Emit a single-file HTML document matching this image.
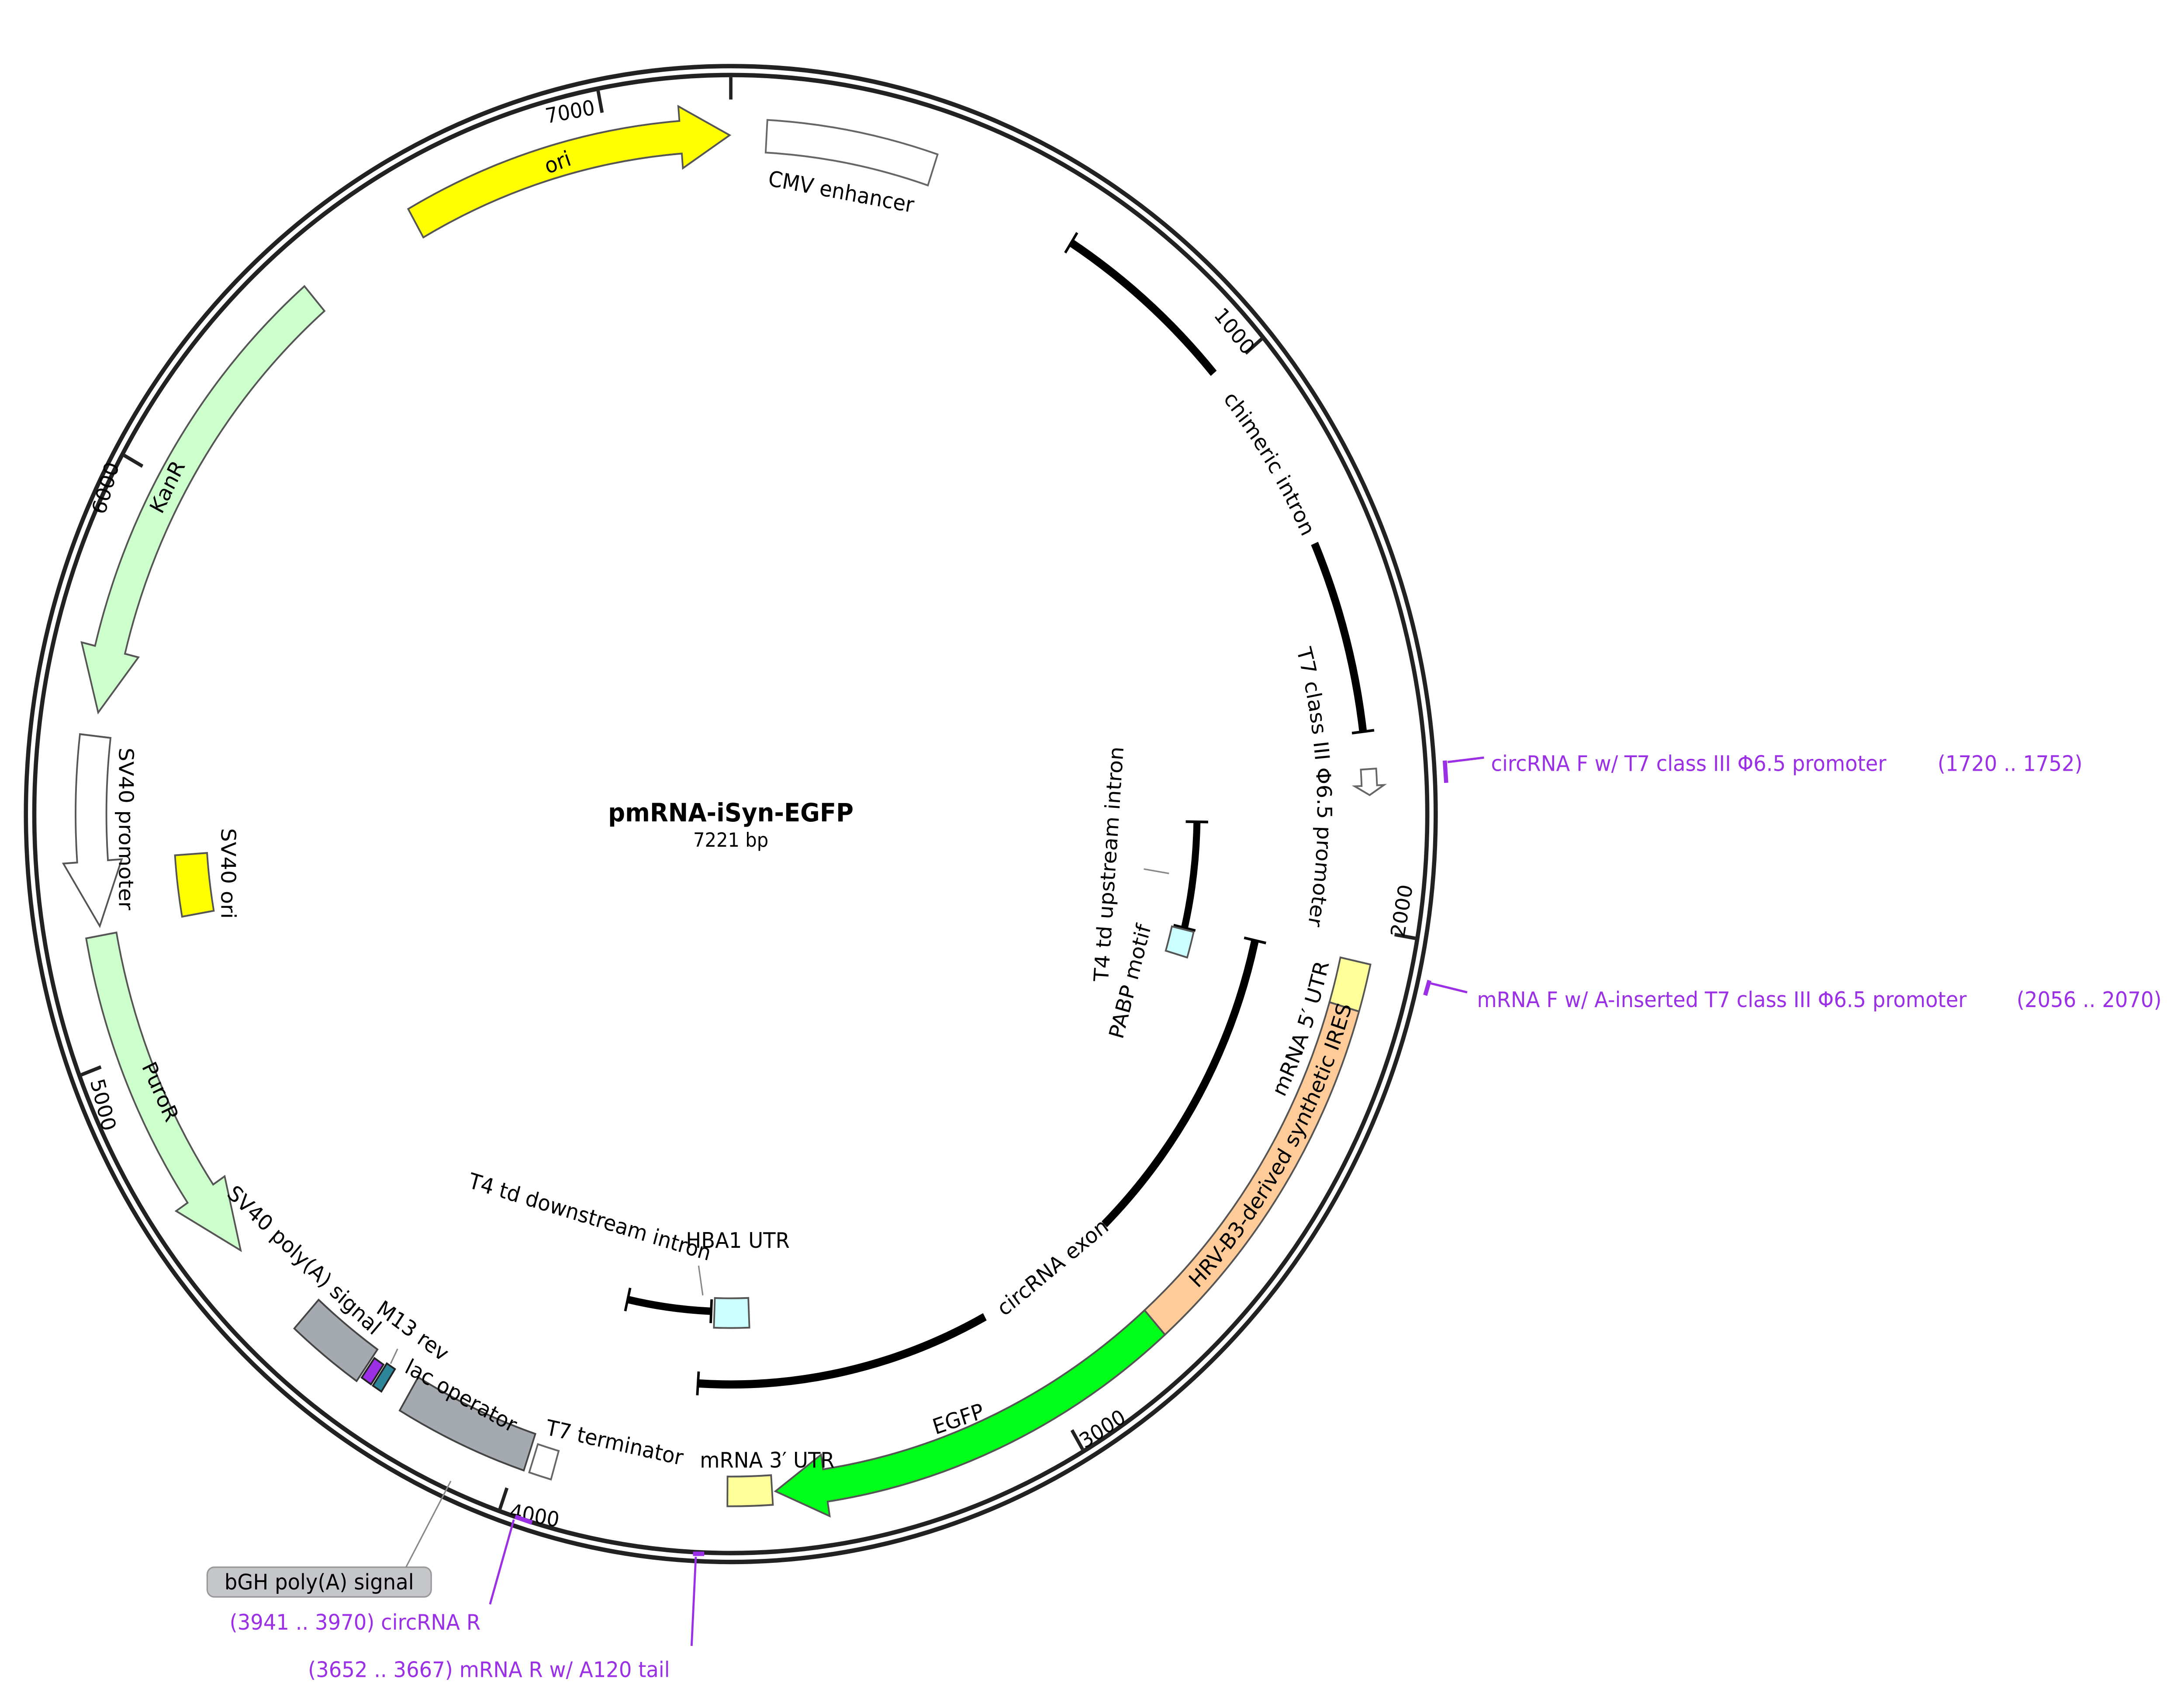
<!DOCTYPE html>
<html><head><meta charset="utf-8"><style>
html,body{margin:0;padding:0;background:#fff;overflow:hidden;}
svg{display:block;position:fixed;left:0;top:0;width:100vw;height:100vh;}
text{font-family:"DejaVu Sans","Liberation Sans",sans-serif;}
</style></head><body>
<svg id="s" xmlns="http://www.w3.org/2000/svg" viewBox="0 0 1560 1139.7" preserveAspectRatio="none">
<rect width="1560" height="1139.7" fill="#fff"/>
<g id="shapes"></g>
<g font-size="14.5" fill="#000">
<text x="522" y="553" text-anchor="middle" font-weight="bold" font-size="17">pmRNA-iSyn-EGFP</text>
<text x="522" y="570" text-anchor="middle" font-size="13">7221 bp</text>
<text transform="translate(408,80) rotate(-10)" text-anchor="middle" font-size="14">7000</text>
<text transform="translate(400,114) rotate(-20)" text-anchor="middle">ori</text>
<text transform="translate(600,134) rotate(10)" text-anchor="middle">CMV enhancer</text>
<text transform="translate(878,226) rotate(50)" text-anchor="middle" font-size="14">1000</text>
<text><textPath href="#chp" startOffset="50%" text-anchor="middle">chimeric intron</textPath></text>
<text><textPath href="#t7p" startOffset="50%" text-anchor="middle">T7 class III Φ6.5 promoter</textPath></text>
<text transform="translate(1006,614) rotate(-80)" text-anchor="middle" font-size="14">2000</text>
<text><textPath href="#utr5p" startOffset="50%" text-anchor="middle">mRNA 5′ UTR</textPath></text>
<text><textPath href="#iresp" startOffset="50%" text-anchor="middle">HRV-B3-derived synthetic IRES</textPath></text>
<text transform="translate(755,857) rotate(-38)" text-anchor="middle">circRNA exon</text>
<text transform="translate(686,960) rotate(-18)" text-anchor="middle">EGFP</text>
<text transform="translate(790,966) rotate(-32)" text-anchor="middle" font-size="14">3000</text>
<text transform="translate(548,988)" text-anchor="middle">mRNA 3′ UTR</text>
<text transform="translate(438,976) rotate(12)" text-anchor="middle">T7 terminator</text>
<text transform="translate(381,1025) rotate(10)" text-anchor="middle" font-size="14">4000</text>
<text transform="translate(327,944) rotate(28)" text-anchor="middle">lac operator</text>
<text transform="translate(292,900) rotate(35)" text-anchor="middle">M13 rev</text>
<text transform="translate(214,852) rotate(42)" text-anchor="middle">SV40 poly(A) signal</text>
<text transform="translate(110,737) rotate(65)" text-anchor="middle">PuroR</text>
<text transform="translate(69,745) rotate(75)" text-anchor="middle" font-size="14">5000</text>
<text transform="translate(85,558) rotate(90)" text-anchor="middle">SV40 promoter</text>
<text transform="translate(124,330) rotate(-63)" text-anchor="middle">KanR</text>
<text transform="translate(80,330) rotate(-73)" text-anchor="middle" font-size="14">6000</text>
<text transform="translate(158,588) rotate(90)" text-anchor="middle">SV40 ori</text>
<text transform="translate(797,582) rotate(-86)" text-anchor="middle">T4 td upstream intron</text>
<text transform="translate(812,662) rotate(-75)" text-anchor="middle">PABP motif</text>
<text transform="translate(420,824) rotate(16)" text-anchor="middle">T4 td downstream intron</text>
<text x="527" y="840" text-anchor="middle">HBA1 UTR</text>
<rect x="148" y="1055" width="160" height="20" rx="5" fill="#c4c6ca" stroke="#999" stroke-width="1"/>
<text x="228" y="1070" text-anchor="middle">bGH poly(A) signal</text>
</g>
<g font-size="14.5" fill="#9b2fe6">
<text x="1065" y="519">circRNA F w/ T7 class III Φ6.5 promoter</text>
<text x="1384" y="519">(1720 .. 1752)</text>
<text x="1055" y="678">mRNA F w/ A-inserted T7 class III Φ6.5 promoter</text>
<text x="1544" y="678" text-anchor="end">(2056 .. 2070)</text>
<text x="164" y="1097">(3941 .. 3970)  circRNA R</text>
<text x="220" y="1129">(3652 .. 3667)  mRNA R w/ A120 tail</text>
</g>
<g stroke="#9b2fe6" stroke-width="1.5" fill="none">
<line x1="1034" y1="513" x2="1060" y2="510"/>
<line x1="1032" y1="512" x2="1033" y2="527" stroke-width="3"/>
<line x1="1022" y1="662" x2="1048" y2="668"/>
<line x1="1021" y1="660" x2="1018" y2="670" stroke-width="3"/>
<line x1="367" y1="1023" x2="350" y2="1080"/>
<line x1="368" y1="1021" x2="380" y2="1025" stroke-width="3"/>
<line x1="497" y1="1048" x2="494" y2="1108"/>
<line x1="495" y1="1046" x2="503" y2="1046" stroke-width="3"/>
</g>
<g stroke="#888" stroke-width="1" fill="none">
<line x1="322" y1="997" x2="290" y2="1055"/>
<line x1="284" y1="908" x2="279" y2="918"/>
<line x1="499" y1="852" x2="502" y2="872"/>
<line x1="817" y1="585" x2="835" y2="588"/>
</g>
</svg>
<script>
var cx=522,cy=548,NS="http://www.w3.org/2000/svg",G=document.getElementById("shapes");
function P(a,r){var t=a*Math.PI/180;return [cx+r*Math.sin(t),cy-r*Math.cos(t)];}
function f(p){return p[0].toFixed(2)+","+p[1].toFixed(2);}
function el(tag,at){var e=document.createElementNS(NS,tag);for(var k in at)e.setAttribute(k,at[k]);G.appendChild(e);return e;}
function arcPath(a1,a2,r){var s=P(a1,r),e=P(a2,r),large=Math.abs(a2-a1)>180?1:0,sw=a2>a1?1:0;return "M"+f(s)+" A"+r+","+r+" 0 "+large+","+sw+" "+f(e);}
function band(a1,a2,r1,r2,fill,stroke){
 var d="M"+f(P(a1,r2))+" A"+r2+","+r2+" 0 0,1 "+f(P(a2,r2))+" L"+f(P(a2,r1))+" A"+r1+","+r1+" 0 0,0 "+f(P(a1,r1))+" Z";
 el("path",{d:d,fill:fill,stroke:stroke||"#555","stroke-width":1.2});}
function arrow(a1,a2,tip,r1,r2,fill,stroke){
 var rm=(r1+r2)/2,w=(r2-r1),h1=rm-w*0.95,h2=rm+w*0.95,cw=tip>a2;
 var d;
 if(cw){d="M"+f(P(a1,r2))+" A"+r2+","+r2+" 0 0,1 "+f(P(a2,r2))+" L"+f(P(a2,h2))+" L"+f(P(tip,rm))+" L"+f(P(a2,h1))+" L"+f(P(a2,r1))+" A"+r1+","+r1+" 0 0,0 "+f(P(a1,r1))+" Z";}
 else{d="M"+f(P(a1,r2))+" A"+r2+","+r2+" 0 0,0 "+f(P(a2,r2))+" L"+f(P(a2,h2))+" L"+f(P(tip,rm))+" L"+f(P(a2,h1))+" L"+f(P(a2,r1))+" A"+r1+","+r1+" 0 0,1 "+f(P(a1,r1))+" Z";}
 el("path",{d:d,fill:fill,stroke:stroke||"#555","stroke-width":1.2});}
function line(a1,a2,r,w){el("path",{d:arcPath(a1,a2,r),fill:"none",stroke:"#000","stroke-width":w||5});}
function cap(a,r,len){var p=P(a,r-len),q=P(a,r+len);el("line",{x1:p[0],y1:p[1],x2:q[0],y2:q[1],stroke:"#000","stroke-width":1.8});}
el("path",{id:"chp",d:arcPath(35,82,449),fill:"none",stroke:"none"});
el("path",{id:"t7p",d:arcPath(62,113,419),fill:"none",stroke:"none"});
el("path",{id:"utr5p",d:arcPath(130,89,439),fill:"none",stroke:"none"});
el("path",{id:"iresp",d:arcPath(150,90,462),fill:"none",stroke:"none"});
el("circle",{cx:cx,cy:cy,r:503.5,fill:"none",stroke:"#222","stroke-width":3});
el("circle",{cx:cx,cy:cy,r:497.5,fill:"none",stroke:"#222","stroke-width":3});
[0,1000,2000,3000,4000,5000,6000,7000].forEach(function(b){var a=b/7221*360,p=P(a,481),q=P(a,496);el("line",{x1:p[0],y1:p[1],x2:q[0],y2:q[1],stroke:"#222","stroke-width":2.4});});
band(3.2,18.4,446,468,"#fff","#666");
arrow(330.5,355.5,359.9,446,468,"#ffff00");
arrow(319.4,284,278.6,446,468,"#ccffcc");
arrow(276.6,266,260.5,446,468,"#fff");
arrow(259.7,236,230,446,468,"#ccffcc");
band(215,222,440,466,"#a5aab1","#444");
band(198.5,210.5,440,466,"#a5aab1","#444");
band(196,198,446,466,"#fff","#666");
band(212.7,213.6,444,462,"#2d8599","#222");
band(213.8,214.8,446,462,"#9b2fe6","#222");
band(102.5,106.5,446,468,"#ffff99","#555");
band(106.5,138.5,446,468,"#ffcc99","#555");
arrow(138.5,171.5,176,446,468,"#00ff18");
band(176.3,180.3,446,466,"#ffff99","#555");
arrow(86.2,87.6,88.4,451,462,"#fff","#666");
line(32.3,49.3,455,5.5); line(66.4,83,455,5.5); cap(32.3,455,8); cap(83,455,8);
line(102.8,136,384,5.5); line(151.8,183.5,384,5.5); cap(102.8,384,8); cap(183.5,384,8);
line(90.9,103.3,333,5); cap(90.9,333,8); cap(103.3,333,8);
line(182.4,192.7,335,5); cap(182.4,335,8); cap(192.7,335,8);
band(103.5,106.5,324,340,"#ccffff","#555");
band(177.8,182,326,346,"#ccffff","#555");
band(260,266,375,398,"#ffff00","#555");
</script>
</body></html>
